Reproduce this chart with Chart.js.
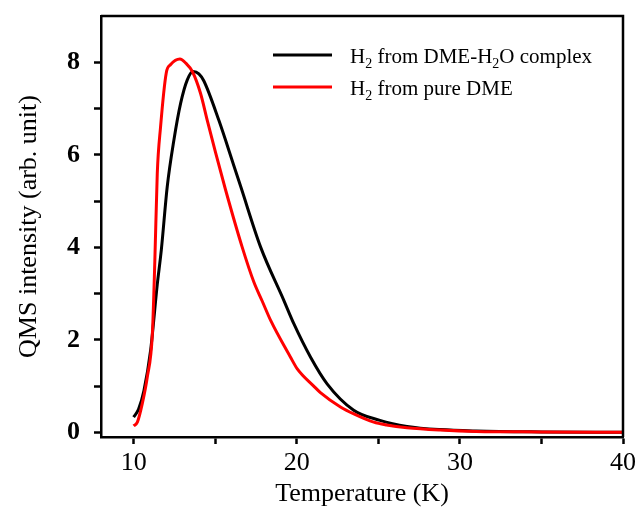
<!DOCTYPE html>
<html>
<head>
<meta charset="utf-8">
<script src="https://cdn.jsdelivr.net/npm/chart.js@4/dist/chart.umd.min.js"></script>
<style>
  html, body { margin: 0; padding: 0; background: #fff; }
  #wrap { width: 638px; height: 510px; }
</style>
</head>
<body>
<div id="wrap"><canvas id="chart" width="638" height="510"></canvas></div>
<script>
// --- data ----------------------------------------------------------------

// H2 from the DME-H2O complex (black curve)
const tempComplex = [10.0, 10.3, 10.63, 11.04, 11.45, 11.7, 12.06, 12.47, 12.88, 13.29,
  13.65, 14.0, 14.3, 15.22, 16.14, 16.55, 17.78, 19.2, 19.82, 20.84, 21.86, 23.49,
  25.1, 26.76, 28.8, 31, 35, 40];
const h2Complex = [0.33, 0.5, 0.9, 1.77, 3.2, 3.95, 5.31, 6.32, 7.11, 7.62,
  7.8, 7.75, 7.6, 6.75, 5.77, 5.33, 4.01, 2.86, 2.35, 1.63, 1.05, 0.48,
  0.26, 0.13, 0.06, 0.03, 0.01, 0.0];

// H2 from pure DME (red curve)
const tempPure = [10.0, 10.23, 10.53, 10.84, 11.15, 11.3, 11.45, 11.65, 12.0, 12.27,
  12.84, 13.2, 13.6, 14.1, 14.51, 15.02, 15.63, 16.65, 17.37, 17.88, 18.4, 19.61,
  20.02, 21.04, 21.45, 22.68, 23.5, 24.72, 25.5, 26.76, 28.8, 31, 35, 40];
const h2Pure = [0.14, 0.22, 0.62, 1.2, 2.14, 3.7, 5.6, 6.6, 7.77, 7.95,
  8.07, 7.98, 7.8, 7.33, 6.75, 6.05, 5.25, 4.01, 3.25, 2.84, 2.42, 1.63,
  1.38, 1.0, 0.86, 0.55, 0.40, 0.22, 0.16, 0.10, 0.05, 0.02, 0.01, 0.0];

// legend text; "_2" marks a subscript 2
const seriesLabels = ["H_2 from DME-H_2O complex", "H_2 from pure DME"];
const seriesColors = ["#000000", "#ff0000"];

// axis ticks (only every second one carries a label)
const xTicks = [10, 15, 20, 25, 30, 35, 40];
const xLabels = [10, 20, 30, 40];
const yTicks = [0, 1, 2, 3, 4, 5, 6, 7, 8];
const yLabels = [0, 2, 4, 6, 8];

const xTitle = "Temperature (K)";
const yTitle = "QMS intensity (arb. unit)";

// --- helpers -------------------------------------------------------------

const SERIF = "'Liberation Serif', 'Times New Roman', serif";
const pairs = (xs, ys) => xs.map((x, i) => ({ x, y: ys[i] }));

// Box round the plot: Chart.js draws left/bottom, we add top/right.
const framePlugin = {
  id: "frame",
  afterDatasetsDraw(chart) {
    const { ctx, chartArea: a } = chart;
    ctx.save();
    ctx.strokeStyle = "#000";
    ctx.lineWidth = 2.5;
    ctx.beginPath();
    ctx.moveTo(a.left, a.top);
    ctx.lineTo(a.right, a.top);
    ctx.lineTo(a.right, a.bottom);
    ctx.stroke();
    ctx.restore();
  },
};

// Legend drawn by hand so the subscripts come out right.
const legendPlugin = {
  id: "subLegend",
  afterDraw(chart) {
    const { ctx, chartArea: a } = chart;
    const x0 = a.left + 172, y0 = a.top + 39, rowGap = 32;
    ctx.save();
    chart.data.datasets.forEach((ds, i) => {
      const y = y0 + i * rowGap;
      ctx.strokeStyle = ds.borderColor;
      ctx.lineWidth = 3;
      ctx.beginPath();
      ctx.moveTo(x0, y);
      ctx.lineTo(x0 + 59, y);
      ctx.stroke();

      // text, with "_2" as a lowered small 2
      let tx = x0 + 77;
      const base = y + 8;
      ctx.fillStyle = "#000";
      ctx.textBaseline = "alphabetic";
      ds.label.split(/(_2)/).forEach((part) => {
        if (!part) return;
        if (part === "_2") {
          ctx.font = `14px ${SERIF}`;
          ctx.fillText("2", tx, base + 5);
          tx += ctx.measureText("2").width;
        } else {
          ctx.font = `21px ${SERIF}`;
          ctx.fillText(part, tx, base);
          tx += ctx.measureText(part).width;
        }
      });
    });
    ctx.restore();
  },
};

// --- chart ---------------------------------------------------------------

new Chart(document.getElementById("chart"), {
  type: "scatter",
  data: {
    datasets: [
      { label: seriesLabels[0], data: pairs(tempComplex, h2Complex),
        borderColor: seriesColors[0], order: 1 },
      { label: seriesLabels[1], data: pairs(tempPure, h2Pure),
        borderColor: seriesColors[1], order: 0 },
    ],
  },
  options: {
    responsive: false,
    animation: false,
    showLine: true,
    layout: { padding: { top: 16, right: 15, left: 0, bottom: 0 } },
    elements: {
      point: { radius: 0, hoverRadius: 0 },
      line: { borderWidth: 3, cubicInterpolationMode: "monotone", fill: false },
    },
    plugins: { legend: { display: false }, tooltip: { enabled: false } },
    scales: {
      x: {
        type: "linear",
        min: 8, max: 40,
        afterBuildTicks: (s) => { s.ticks = xTicks.map((v) => ({ value: v })); },
        afterFit: (s) => { s.height = 73; s.paddingLeft = 0; s.paddingRight = 0; },
        border: { display: true, color: "#000", width: 2.5 },
        grid: { drawOnChartArea: false, tickLength: 7, tickWidth: 2.5, tickColor: "#000" },
        ticks: {
          autoSkip: false, maxRotation: 0, padding: 4, color: "#000",
          font: { family: SERIF, size: 26 },
          callback: (v) => (xLabels.includes(v) ? String(v) : ""),
        },
        title: {
          display: true, text: xTitle, color: "#000",
          font: { family: SERIF, size: 26 }, padding: { top: 0, bottom: 0 },
        },
      },
      y: {
        type: "linear",
        min: -0.1, max: 9,
        afterBuildTicks: (s) => { s.ticks = yTicks.map((v) => ({ value: v })); },
        afterFit: (s) => { s.width = 101; s.paddingTop = 0; s.paddingBottom = 0; },
        border: { display: true, color: "#000", width: 2.5 },
        grid: { drawOnChartArea: false, tickLength: 7, tickWidth: 2.5, tickColor: "#000" },
        ticks: {
          autoSkip: false, padding: 14, color: "#000",
          font: { family: SERIF, size: 26, weight: "bold" },
          callback: (v) => (yLabels.includes(v) ? String(v) : ""),
        },
        title: {
          display: true, text: yTitle, color: "#000",
          font: { family: SERIF, size: 26 }, padding: { top: 14, bottom: 0 },
        },
      },
    },
  },
  plugins: [framePlugin, legendPlugin],
});
</script>
</body>
</html>
